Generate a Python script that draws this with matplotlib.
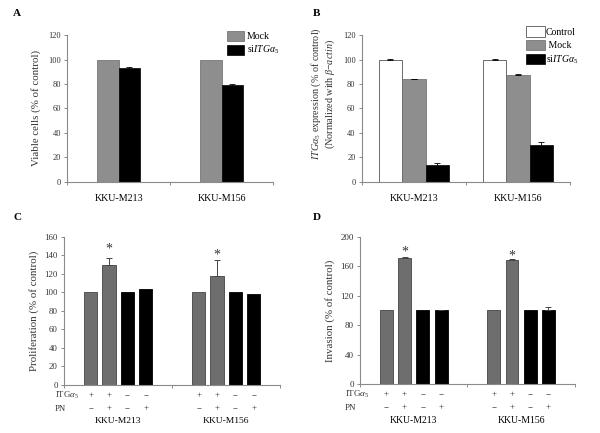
import matplotlib
matplotlib.use("Agg")
import matplotlib.pyplot as plt
import numpy as np

plt.rcParams['font.family'] = ['Liberation Serif', 'DejaVu Serif']
plt.rcParams['mathtext.fontset'] = 'custom'
plt.rcParams['mathtext.rm'] = 'Liberation Serif'
plt.rcParams['mathtext.it'] = 'Liberation Serif:italic'

# data
cell_lines = ["KKU-M213", "KKU-M156"]

viable_mock = [100, 100]
viable_si = [93, 79]
viable_si_err = [1.0, 1.0]

expr_control = [100, 100]
expr_control_err = [0.6, 0.6]
expr_mock = [84, 87.5]
expr_mock_err = [0.3, 0.3]
expr_si = [14, 30.5]
expr_si_err = [1.8, 1.8]

prolif = [[100, 130, 100, 104], [100, 118, 100, 98]]
prolif_err = [[0, 7, 0, 0], [0, 17, 0, 0]]
prolif_star = [147, 140]

invasion = [[100, 171, 100, 100], [100, 169, 100, 100]]
invasion_err = [[0, 1, 0, 1], [0, 1, 0, 5]]
invasion_star = [180, 174]

itg_signs = ["+", "+", "\u2212", "\u2212"]
pn_signs = ["\u2212", "+", "\u2212", "+"]

GRAY_LIGHT = "#8e8e8e"
GRAY_DARK = "#6e6e6e"
SPINE = "#8a8a8a"
TXT = "#333333"

fig = plt.figure(figsize=(6.0, 4.33), dpi=100)


def style_axes(ax, ymax, ystep, tsize):
    ax.set_xlim(-0.5, 1.5)
    ax.set_ylim(0, ymax)
    ax.set_yticks(np.arange(0, ymax + 1, ystep))
    ax.set_xticks([-0.5, 0.5, 1.5])
    ax.set_xticklabels([])
    for s in ["top", "right"]:
        ax.spines[s].set_visible(False)
    for s in ["left", "bottom"]:
        ax.spines[s].set_color(SPINE)
        ax.spines[s].set_linewidth(0.8)
    ax.tick_params(axis="both", direction="out", length=2.5, width=0.7,
                   color=SPINE, labelsize=tsize, labelcolor=TXT, pad=2)


x = np.arange(len(cell_lines))
ebar = dict(elinewidth=0.6, capsize=2, capthick=0.6)

# Panel A
axA = fig.add_axes([0.112, 0.580, 0.343, 0.339])
w = 0.21
axA.bar(x - w / 2, viable_mock, w, color=GRAY_LIGHT, edgecolor="#666666",
        linewidth=0.5, label="Mock")
axA.bar(x + w / 2, viable_si, w, yerr=viable_si_err, color="black",
        edgecolor="black", linewidth=0.5, error_kw=ebar,
        label=r"si$\mathit{ITG\alpha_5}$")
style_axes(axA, 120, 20, 6)
axA.set_ylabel("Viable cells (% of control)", fontsize=7.8, color=TXT, labelpad=5)
axA.legend(loc="upper right", bbox_to_anchor=(1.03, 1.03), fontsize=7, frameon=False,
           handlelength=1.7, handleheight=1.2, handletextpad=0.3, labelspacing=0.3,
           borderaxespad=0, borderpad=0)
for i, name in enumerate(cell_lines):
    axA.text(x[i], -0.11, name, transform=axA.get_xaxis_transform(),
             ha="center", va="center", fontsize=7.2, color="black")

# Panel B
axB = fig.add_axes([0.603, 0.580, 0.347, 0.339])
w = 0.225
axB.bar(x - w, expr_control, w, yerr=expr_control_err, color="white",
        edgecolor="#555555", linewidth=0.6, error_kw=ebar, label="Control")
axB.bar(x, expr_mock, w, yerr=expr_mock_err, color=GRAY_LIGHT, edgecolor="#666666",
        linewidth=0.5, error_kw=ebar, label=" Mock")
axB.bar(x + w, expr_si, w, yerr=expr_si_err, color="black", edgecolor="black",
        linewidth=0.5, error_kw=ebar, label=r"si$\mathit{ITG\alpha_5}$")
style_axes(axB, 120, 20, 6)
axB.set_ylabel(r"$\mathit{ITG\alpha_5}$ expression (% of control)" "\n"
               r"(Normalized with $\mathit{\beta}$$-$$\mathit{actin}$)",
               fontsize=7.3, color=TXT, labelpad=4, linespacing=1.05)
axB.yaxis.set_label_coords(-0.12, 0.6)
axB.legend(loc="upper right", bbox_to_anchor=(1.04, 1.06), fontsize=7, frameon=False,
           handlelength=1.9, handleheight=1.3, handletextpad=0.1, labelspacing=0.3,
           borderaxespad=0, borderpad=0)
for i, name in enumerate(cell_lines):
    axB.text(x[i], -0.11, name, transform=axB.get_xaxis_transform(),
             ha="center", va="center", fontsize=7.2, color="black")


def treatment_panel(rect, values, errs, stars, ymax, ystep, ylabel, w, label_x, fs, tsize):
    ax = fig.add_axes(rect)
    offsets = np.array([-0.255, -0.085, 0.085, 0.255])
    colors = [GRAY_DARK, GRAY_DARK, "black", "black"]
    edges = ["#444444", "#444444", "black", "black"]
    trans = ax.get_xaxis_transform()
    for g in range(len(cell_lines)):
        ax.bar(x[g] + offsets, values[g], w, color=colors, edgecolor=edges, linewidth=0.6)
        for k in range(4):
            if errs[g][k] > 0:
                ax.errorbar(x[g] + offsets[k], values[g][k], yerr=[[0], [errs[g][k]]],
                            fmt="none", ecolor="#444444", elinewidth=0.7,
                            capsize=2, capthick=0.7)
        ax.text(x[g] + offsets[1], stars[g], "*", ha="center", va="center",
                fontsize=10, color="#333333")
        for k in range(4):
            ax.text(x[g] + offsets[k], -0.07, itg_signs[k], transform=trans,
                    ha="center", va="center", fontsize=tsize, color=TXT)
            ax.text(x[g] + offsets[k], -0.16, pn_signs[k], transform=trans,
                    ha="center", va="center", fontsize=tsize, color=TXT)
        ax.text(x[g], -0.245, cell_lines[g], transform=trans,
                ha="center", va="center", fontsize=fs, color="black")
    fig.text(label_x, rect[1] - 0.07 * rect[3], r"ITG$\alpha_5$", ha="left", va="center",
             fontsize=tsize, color=TXT)
    fig.text(label_x, rect[1] - 0.16 * rect[3], "PN", ha="left", va="center",
             fontsize=tsize, color=TXT)
    style_axes(ax, ymax, ystep, tsize)
    ax.set_ylabel(ylabel, fontsize=7.8, color=TXT, labelpad=4)
    return ax


axC = treatment_panel([0.107, 0.111, 0.360, 0.342], prolif, prolif_err, prolif_star,
                      160, 20, "Proliferation (% of control)", 0.125, 0.092, 6.8, 6.3)
axD = treatment_panel([0.600, 0.113, 0.358, 0.340], invasion, invasion_err, invasion_star,
                      200, 40, "Invasion (% of control)", 0.12, 0.575, 7, 6.5)

# panel letters
for lx, ly, s in [(0.022, 0.968, "A"), (0.522, 0.968, "B"),
                  (0.022, 0.497, "C"), (0.522, 0.497, "D")]:
    fig.text(lx, ly, s, fontsize=8, fontweight="bold", ha="left", va="center")

fig.savefig("out.png", dpi=100)
